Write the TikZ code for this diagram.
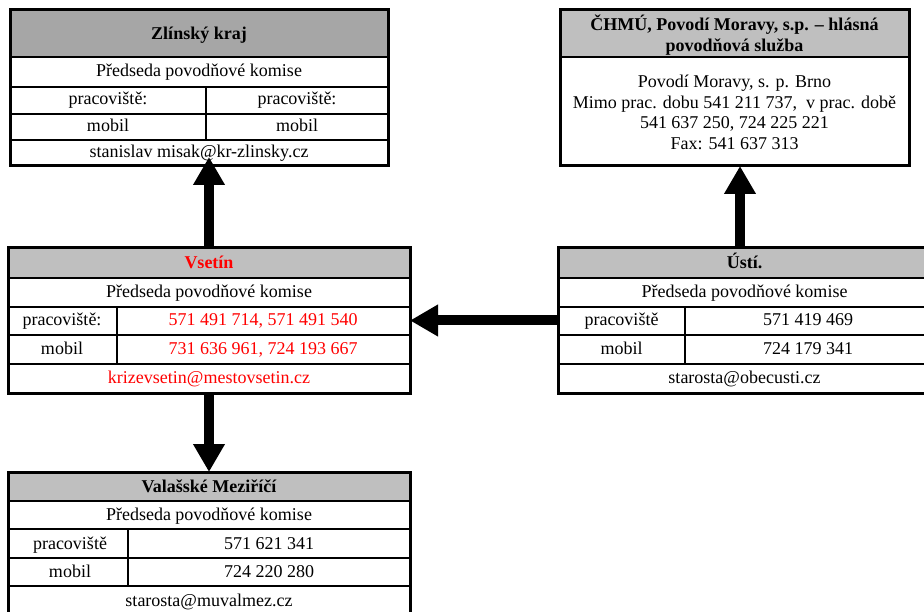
\documentclass[tikz,border=0pt]{standalone}
\usepackage{fontspec}
\setmainfont{Liberation Serif}
\usetikzlibrary{arrows.meta}

\begin{document}
\begin{tikzpicture}[x=1pt,y=-1pt,
		frame/.style={draw,line width=3pt,inner sep=0pt,outer sep=0pt,anchor=north west},
		rule/.style={line width=2.6pt},
		txt/.style={inner sep=0pt,text height=12.5pt,text depth=3.5pt,font=\fontsize{18}{20.5}\selectfont},
		hd/.style={txt,font=\fontsize{18}{20.5}\selectfont\bfseries},
		multi/.style={inner sep=0pt,align=center,font=\fontsize{18}{20.5}\selectfont},
		bigarrow/.style={line width=10pt,-{Triangle[length=28pt,width=30pt]}}]
			\useasboundingbox (0,0) rectangle (924,612);
			% Zlinsky kraj
			\fill[gray!70] (10,10) rectangle (388,57);
			\draw[rule] (10,57) -- (388,57) (10,87) -- (388,87) (10,114) -- (388,114) (10,140) -- (388,140) (206,87) -- (206,140);
			\node[frame,minimum width=378pt,minimum height=156pt] (zlin) at (10,10) {};
			\node[hd] (zl-name) at (199,35.5) {Zlínský kraj};
			\node[txt] (zl-pred) at (199,72.5) {Předseda povodňové komise};
			\node[txt] (zl-prac1) at (108,100.5) {pracoviště:};
			\node[txt] (zl-prac2) at (297,100.5) {pracoviště:};
			\node[txt] (zl-mob1) at (108,127) {mobil};
			\node[txt] (zl-mob2) at (297,127) {mobil};
			\node[txt] (zl-mail) at (199,153) {stanislav misak@kr-zlinsky.cz};
			% CHMU
			\fill[gray!50] (560,10) rectangle (909,57);
			\draw[rule] (560,57) -- (909,57);
			\node[frame,minimum width=349pt,minimum height=156pt] (chmu) at (560,10) {};
			\node[multi,font=\fontsize{18}{20.5}\selectfont\bfseries] (ch-name) at (734.5,35) {ČHMÚ, Povodí Moravy, s.p. – hlásná\\povodňová služba};
			\node[multi] (ch-body) at (734.5,112.5) {Povodí Moravy, s. p. Brno\\Mimo prac. dobu 541 211 737, \ v prac. době\\541 637 250, 724 225 221\\Fax: 541 637 313};
			% Vsetin
			\fill[gray!50] (8,248) rectangle (410,278);
			\draw[rule] (8,278) -- (410,278) (8,307) -- (410,307) (8,335) -- (410,335) (8,364) -- (410,364) (117,307) -- (117,364);
			\node[frame,minimum width=402pt,minimum height=145pt] (vset) at (8,248) {};
			\node[hd,red] (vs-name) at (209,264.5) {Vsetín};
			\node[txt] (vs-pred) at (209,293) {Předseda povodňové komise};
			\node[txt] (vs-prac) at (62,321.5) {pracoviště:};
			\node[txt,red] (vs-pracnum) at (263,321.5) {571 491 714, 571 491 540};
			\node[txt] (vs-mob) at (62,350) {mobil};
			\node[txt,red] (vs-mobnum) at (263,350) {731 636 961, 724 193 667};
			\node[txt,red] (vs-mail) at (209,379) {krizevsetin@mestovsetin.cz};
			% Usti
			\fill[gray!50] (558,248) rectangle (931,278);
			\draw[rule] (558,278) -- (931,278) (558,307) -- (931,307) (558,335) -- (931,335) (558,364) -- (931,364) (685,307) -- (685,364);
			\node[frame,minimum width=373pt,minimum height=145pt] (usti) at (558,248) {};
			\node[hd] (us-name) at (744.5,264.5) {Ústí.};
			\node[txt] (us-pred) at (744.5,293) {Předseda povodňové komise};
			\node[txt] (us-prac) at (621.5,321.5) {pracoviště};
			\node[txt] (us-pracnum) at (808,321.5) {571 419 469};
			\node[txt] (us-mob) at (621.5,350) {mobil};
			\node[txt] (us-mobnum) at (808,350) {724 179 341};
			\node[txt] (us-mail) at (744.5,379) {starosta@obecusti.cz};
			% Valasske Mezirici
			\fill[gray!50] (8,472) rectangle (410,501);
			\draw[rule] (8,501) -- (410,501) (8,529) -- (410,529) (8,558) -- (410,558) (8,586) -- (410,586) (128,529) -- (128,586);
			\node[frame,minimum width=402pt,minimum height=146pt] (vala) at (8,472) {};
			\node[hd] (va-name) at (209,487.5) {Valašské Meziříčí};
			\node[txt] (va-pred) at (209,516) {Předseda povodňové komise};
			\node[txt] (va-prac) at (70,544.5) {pracoviště};
			\node[txt] (va-pracnum) at (269,544.5) {571 621 341};
			\node[txt] (va-mob) at (70,573) {mobil};
			\node[txt] (va-mobnum) at (269,573) {724 220 280};
			\node[txt] (va-mail) at (209,602) {starosta@muvalmez.cz};
			% arrows
			\draw[bigarrow] (vset.north) -- ([yshift=9pt]vset.north |- zlin.south);
			\draw[bigarrow] ([xshift=-4.5pt]usti.north) -- ([xshift=-4.5pt]usti.north |- chmu.south);
			\draw[bigarrow] (usti.west) -- (vset.east);
			\draw[bigarrow] (vset.south) -- (vala.north);
		\end{tikzpicture}
\end{document}
